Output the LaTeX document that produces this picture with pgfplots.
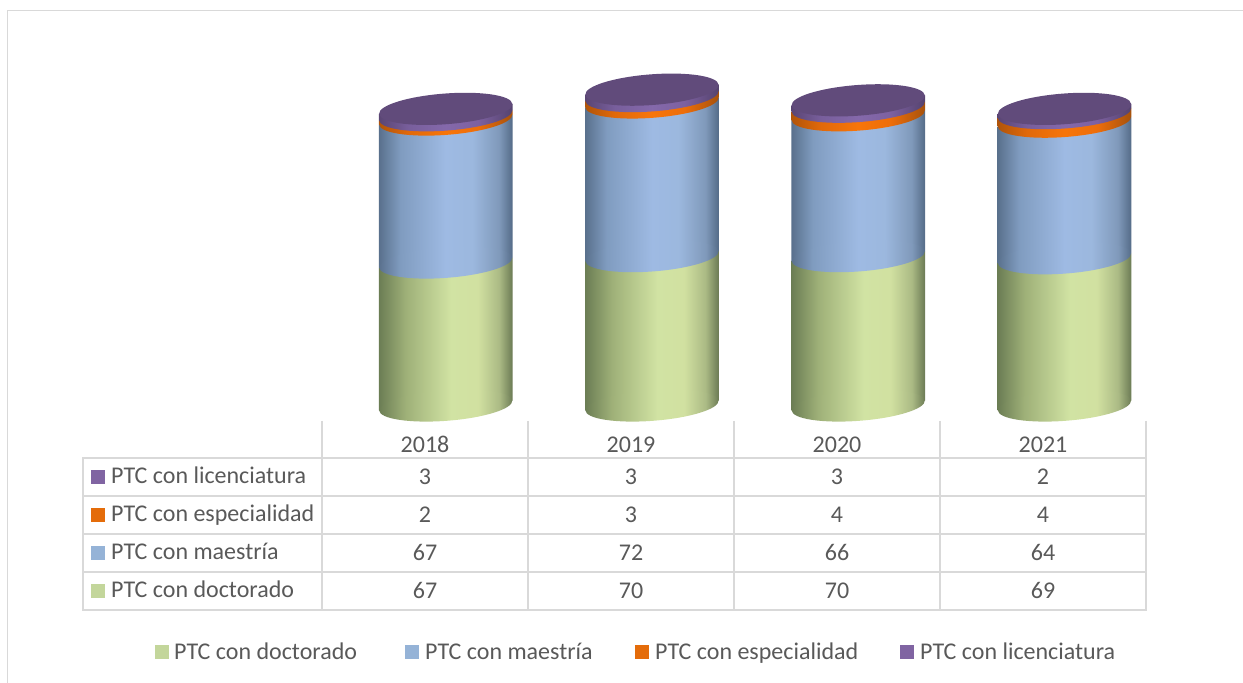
\documentclass[border=0pt]{standalone}
\usepackage{fontspec}
\setmainfont{Carlito}
\usepackage{pgfplots}
\pgfplotsset{compat=1.18}
\definecolor{txt}{HTML}{595959}
\definecolor{grid}{HTML}{D9D9D9}
\definecolor{kgreen}{HTML}{C3D69B}
\definecolor{kblue}{HTML}{95B3D7}
\definecolor{korange}{HTML}{E46C0A}
\definecolor{kpurple}{HTML}{8064A2}
\definecolor{ptop}{HTML}{614B7B}
\pgfdeclarehorizontalshading{cylg}{100bp}{
 rgb(0bp)=(0.42,0.49,0.33); rgb(25bp)=(0.42,0.49,0.33);
 rgb(35bp)=(0.62,0.69,0.47); rgb(52bp)=(0.82,0.89,0.64);
 rgb(62bp)=(0.82,0.88,0.63); rgb(70bp)=(0.67,0.73,0.52);
 rgb(75bp)=(0.42,0.48,0.33); rgb(100bp)=(0.42,0.48,0.33)}
\pgfdeclarehorizontalshading{cylb}{100bp}{
 rgb(0bp)=(0.35,0.44,0.55); rgb(25bp)=(0.35,0.44,0.55);
 rgb(33bp)=(0.50,0.61,0.75); rgb(50bp)=(0.62,0.73,0.89);
 rgb(60bp)=(0.61,0.72,0.87); rgb(70bp)=(0.50,0.60,0.73);
 rgb(75bp)=(0.33,0.42,0.53); rgb(100bp)=(0.33,0.42,0.53)}
\pgfdeclarehorizontalshading{cylo}{100bp}{
 rgb(0bp)=(0.69,0.33,0.04); rgb(25bp)=(0.69,0.33,0.04);
 rgb(36bp)=(0.88,0.41,0.04); rgb(50bp)=(0.97,0.46,0.04);
 rgb(62bp)=(0.93,0.43,0.04); rgb(75bp)=(0.65,0.32,0.05); rgb(100bp)=(0.65,0.32,0.05)}
\pgfdeclarehorizontalshading{cylp}{100bp}{
 rgb(0bp)=(0.35,0.27,0.45); rgb(25bp)=(0.35,0.27,0.45);
 rgb(36bp)=(0.47,0.37,0.61); rgb(50bp)=(0.52,0.41,0.67);
 rgb(62bp)=(0.49,0.38,0.63); rgb(75bp)=(0.33,0.26,0.43); rgb(100bp)=(0.33,0.26,0.43)}
\newcommand{\ellpath}{\pgfpathellipse{\pgfpointorigin}{\pgfqpoint{66.6pt}{5pt}}{\pgfqpoint{-1.15pt}{15.3pt}}}
\pgfdeclareplotmark{elg}{\ellpath\pgfshadepath{cylg}{0}\pgfusepath{discard}}
\pgfdeclareplotmark{elb}{\ellpath\pgfshadepath{cylb}{0}\pgfusepath{discard}}
\pgfdeclareplotmark{elo}{\ellpath\pgfshadepath{cylo}{0}\pgfusepath{discard}}
\pgfdeclareplotmark{elp}{\ellpath\pgfshadepath{cylp}{0}\pgfusepath{discard}}
\pgfdeclareplotmark{eltop}{\pgfsetfillcolor{ptop}\ellpath\pgfusepath{fill}}
% one segment of a stacked cylinder: #1 shading, #2 base mark, #3 x, #4 lower, #5 upper
\newcommand{\seg}[5]{%
 \addplot[only marks,mark=#2,forget plot] coordinates {(#3,#4)};
 \pgfmathsetmacro{\xl}{#3-0.3239}\pgfmathsetmacro{\xr}{#3+0.3239}%
 \pgfmathsetmacro{\ya}{#4-2.34}\pgfmathsetmacro{\yb}{#4+2.34}%
 \pgfmathsetmacro{\yc}{#5+2.34}\pgfmathsetmacro{\yd}{#5-2.34}%
 \addplot[draw=none,shade,shading=#1,forget plot] coordinates {(\xl,\ya) (\xr,\yb) (\xr,\yc) (\xl,\yd)};
}
% #1 x, #2 doctorado, #3 maestria, #4 especialidad, #5 licenciatura
\newcommand{\cyl}[5]{%
 \pgfmathsetmacro{\sa}{#2}\pgfmathsetmacro{\sb}{#2+#3}\pgfmathsetmacro{\sc}{#2+#3+#4}\pgfmathsetmacro{\sd}{#2+#3+#4+#5}%
 \seg{cylg}{elg}{#1}{0}{\sa}
 \seg{cylb}{elb}{#1}{\sa}{\sb}
 \seg{cylo}{elo}{#1}{\sb}{\sc}
 \seg{cylp}{elp}{#1}{\sc}{\sd}
 \addplot[only marks,mark=eltop,forget plot] coordinates {(#1,\sd)};
}
\begin{document}
\begin{tikzpicture}
\path[use as bounding box] (0,0) rectangle (1243pt,683pt);
\begin{axis}[at={(0,0)},anchor=south west,scale only axis,width=1243pt,height=683pt,
 hide axis,clip=false,xmin=-2.1610,xmax=3.8657,ymin=-130.04,ymax=190.02]
\cyl{0}{67}{67}{2}{3}
\cyl{1}{70}{72}{3}{3}
\cyl{2}{70}{66}{4}{3}
\cyl{3}{69}{64}{4}{2}
\end{axis}
\begin{scope}[x=1pt,y=-1pt,yshift=683pt]
\draw[grid,line width=1pt] (7,683) -- (7,10.5) -- (1243,10.5);
\draw[grid,line width=2.2pt,line cap=rect]
 (83,458) -- (1146,458) (83,496) -- (1146,496) (83,534) -- (1146,534) (83,572) -- (1146,572) (83,610) -- (1146,610)
 (83,458) -- (83,610);
\foreach \x in {322,528,734,940,1146} \draw[grid,line width=2.2pt] (\x,421) -- (\x,610);
\tikzset{t/.style={text=txt,inner sep=0pt,font=\fontsize{24}{26}\selectfont},
 l/.style={t,anchor=base west},c/.style={t,anchor=base}}
\foreach \x/\a/\b/\c/\d/\e in {425/2018/3/2/67/67,631/2019/3/3/72/70,837/2020/3/4/66/70,1043/2021/2/4/64/69}{
 \node[c] at (\x,452.5) {\a};
 \node[c] at (\x,484.5) {\b};
 \node[c] at (\x,522.5) {\c};
 \node[c] at (\x,561) {\d};
 \node[c] at (\x,599) {\e};
}
\fill[kpurple] (91,470) rectangle (105,484);
\fill[korange] (91,508) rectangle (105,522);
\fill[kblue] (91,546) rectangle (105,560);
\fill[kgreen] (91,584) rectangle (105,598);
\node[l] at (111,483.5) {PTC con licenciatura};
\node[l] at (111,521.5) {PTC con especialidad};
\node[l] at (111,559.5) {PTC con maestría};
\node[l] at (111,597.5) {PTC con doctorado};
\fill[kgreen] (155,645) rectangle (169,659);
\fill[kblue] (405,645) rectangle (419,659);
\fill[korange] (635,645) rectangle (649,659);
\fill[kpurple] (900,645) rectangle (914,659);
\node[l] at (174,659.5) {PTC con doctorado};
\node[l] at (425,659.5) {PTC con maestría};
\node[l] at (655,659.5) {PTC con especialidad};
\node[l] at (920,659.5) {PTC con licenciatura};
\end{scope}
\end{tikzpicture}
\end{document}
